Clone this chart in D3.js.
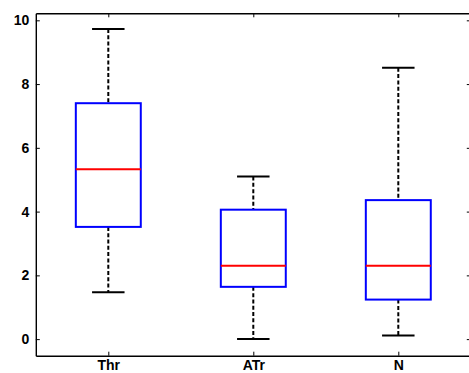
<!DOCTYPE html>
<html>
<head>
<meta charset="utf-8">
<script src="https://cdn.jsdelivr.net/npm/d3@7"></script>
<style>
html, body { margin: 0; padding: 0; background: #fff; overflow: hidden; }
svg { display: block; }
</style>
</head>
<body>
<svg id="chart" width="469" height="373"></svg>
<script>
const categories = ["Thr", "ATr", "N"];
const lowerWhisker = [1.47, 0.0, 0.11];
const q1Values = [3.52, 1.64, 1.24];
const medianValues = [5.33, 2.30, 2.30];
const q3Values = [7.40, 4.06, 4.36];
const upperWhisker = [9.73, 5.10, 8.51];
const yTicks = [0, 2, 4, 6, 8, 10];

const svg = d3.select("#chart");
const mLeft = 35.8, mRight = 470.8, mTop = 13.3, mBottom = 355.7;

const x = d3.scaleLinear().domain([0.5, 3.5]).range([mLeft, mRight]);
const y = d3.scaleLinear().domain([-0.52, 10.22]).range([mBottom, mTop]);

const boxHalf = 0.224, capHalf = 0.112;
const data = categories.map((c, i) => ({
  cat: c, pos: i + 1,
  lo: lowerWhisker[i], q1: q1Values[i], med: medianValues[i], q3: q3Values[i], hi: upperWhisker[i]
}));

const font = "'Liberation Sans', Arial, Helvetica, sans-serif";

function styleAxis(g) {
  g.select(".domain").attr("stroke", "#000").attr("stroke-width", 1.4);
  g.selectAll(".tick line").attr("stroke", "#000").attr("stroke-width", 1);
  g.selectAll(".tick text").attr("fill", "#000")
    .style("font-family", font).style("font-size", "14px").style("font-weight", "bold");
}

// axes
svg.append("g").attr("transform", `translate(${mLeft},0)`)
  .call(d3.axisLeft(y).tickValues(yTicks).tickSizeInner(-4).tickSizeOuter(0).tickPadding(6.5))
  .call(styleAxis);
svg.append("g").attr("transform", `translate(${mRight},0)`)
  .call(d3.axisRight(y).tickValues(yTicks).tickSizeInner(-4).tickSizeOuter(0).tickFormat(""))
  .call(styleAxis);
svg.append("g").attr("transform", `translate(0,${mBottom})`)
  .call(d3.axisBottom(x).tickValues([1, 2, 3]).tickFormat(d => categories[d - 1])
    .tickSizeInner(-4).tickSizeOuter(0).tickPadding(4.5))
  .call(styleAxis);
svg.append("g").attr("transform", `translate(0,${mTop})`)
  .call(d3.axisTop(x).tickValues([1, 2, 3]).tickSizeInner(-4).tickSizeOuter(0).tickFormat(""))
  .call(styleAxis);

const g = svg.append("g");
const box = g.selectAll("g.box").data(data).join("g").attr("class", "box");

// whiskers (dashed)
box.append("line")
  .attr("x1", d => x(d.pos)).attr("x2", d => x(d.pos))
  .attr("y1", d => y(d.hi)).attr("y2", d => y(d.q3))
  .attr("stroke", "#000").attr("stroke-width", 2).attr("stroke-dasharray", "4,2.3");
box.append("line")
  .attr("x1", d => x(d.pos)).attr("x2", d => x(d.pos))
  .attr("y1", d => y(d.q1)).attr("y2", d => y(d.lo))
  .attr("stroke", "#000").attr("stroke-width", 2).attr("stroke-dasharray", "4,2.3");
// caps
box.append("line")
  .attr("x1", d => x(d.pos - capHalf)).attr("x2", d => x(d.pos + capHalf))
  .attr("y1", d => y(d.hi)).attr("y2", d => y(d.hi))
  .attr("stroke", "#000").attr("stroke-width", 2);
box.append("line")
  .attr("x1", d => x(d.pos - capHalf)).attr("x2", d => x(d.pos + capHalf))
  .attr("y1", d => y(d.lo)).attr("y2", d => y(d.lo))
  .attr("stroke", "#000").attr("stroke-width", 2);
// boxes
box.append("rect")
  .attr("x", d => x(d.pos - boxHalf)).attr("width", d => x(d.pos + boxHalf) - x(d.pos - boxHalf))
  .attr("y", d => y(d.q3)).attr("height", d => y(d.q1) - y(d.q3))
  .attr("fill", "none").attr("stroke", "#0000ff").attr("stroke-width", 2);
// medians
box.append("line")
  .attr("x1", d => x(d.pos - boxHalf)).attr("x2", d => x(d.pos + boxHalf))
  .attr("y1", d => y(d.med)).attr("y2", d => y(d.med))
  .attr("stroke", "#ff0000").attr("stroke-width", 2);
</script>
</body>
</html>
